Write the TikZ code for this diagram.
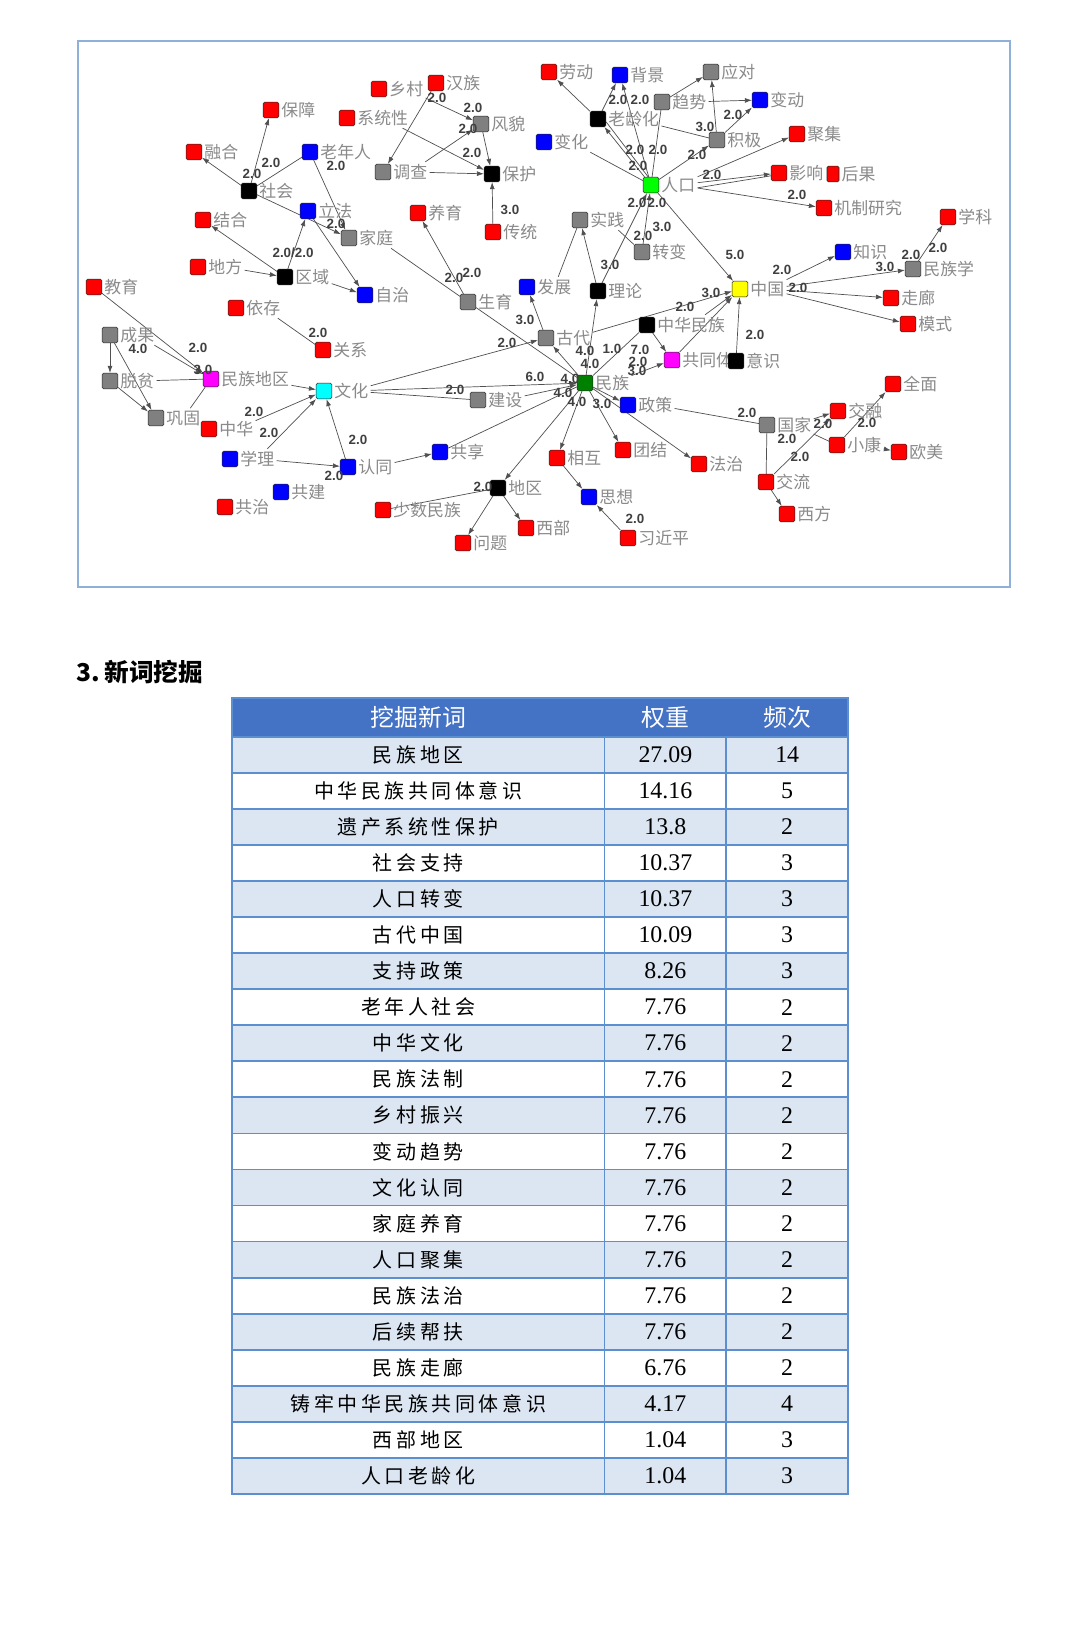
\documentclass[tikz,border=0pt]{standalone}
\usepackage{fontspec}
\setmainfont{Liberation Serif}
\setsansfont{Liberation Sans}
\newfontfamily\cjk{Noto Sans CJK SC}
\newfontfamily\cjkwide[LetterSpace=18]{Noto Sans CJK SC}
\usetikzlibrary{positioning}
\usetikzlibrary{shapes.geometric, arrows.meta, backgrounds}

\definecolor{nred}{HTML}{FF0000}
\definecolor{nblue}{HTML}{0000FF}
\definecolor{ngray}{HTML}{808080}
\definecolor{ngreen}{HTML}{00FF00}
\definecolor{ndkgreen}{HTML}{008000}
\definecolor{ncyan}{HTML}{00FFFF}
\definecolor{nmagenta}{HTML}{FF00FF}
\definecolor{nyellow}{HTML}{FFFF00}
\definecolor{lblgray}{HTML}{8A8A8A}
\definecolor{linegray}{HTML}{505050}
\definecolor{numgray}{HTML}{404040}
\definecolor{framec}{HTML}{8FB0D8}
\definecolor{headblue}{HTML}{4472C4}
\definecolor{rowblue}{HTML}{DCE6F2}
\definecolor{gridblue}{HTML}{5B8FD0}

\tikzset{
  wnode/.style={draw=black!85, rounded corners=1pt, minimum size=0.39cm, inner sep=0pt, line width=0.4pt},
  lbl/.style={text=lblgray, font=\cjk\fontsize{12}{12}\selectfont, inner sep=1.5pt},
  wline/.style={draw=linegray, line width=0.5pt, -{Latex[length=5pt,width=3.5pt]}},
  wplain/.style={draw=linegray, line width=0.5pt},
  wl/.style={text=numgray, font=\sffamily\bfseries\fontsize{9.5}{10}\selectfont, inner sep=0pt},
  thead/.style={text=white, font=\cjk\fontsize{17}{18}\selectfont},
  tcell/.style={font=\cjkwide\fontsize{14.2}{15}\selectfont},
  tnum/.style={font=\rmfamily\fontsize{17}{18}\selectfont},
}

\begin{document}
\begin{tikzpicture}[x=0.025cm, y=-0.025cm]
    \useasboundingbox (0,0) rectangle (1080,1632);

    % network frame
    \draw[framec, line width=1.5pt] (78,41) rectangle (1010,587);

    % word nodes
    \node[wnode, fill=nred, label={[lbl,name=baozhang-t]right:保障}] (baozhang) at (271,110) {};
    \node[wnode, fill=nred, label={[lbl,name=ronghe-t]right:融合}] (ronghe) at (194,152) {};
    \node[wnode, fill=nblue, label={[lbl,name=laonianren-t]right:老年人}] (laonianren) at (310,152) {};
    \node[wnode, fill=black, label={[lbl,name=shehui-t]right:社会}] (shehui) at (249,191) {};
    \node[wnode, fill=nblue, label={[lbl,name=lifa-t]right:立法}] (lifa) at (308,211) {};
    \node[wnode, fill=nred, label={[lbl,name=jiehe-t]right:结合}] (jiehe) at (203,220) {};
    \node[wnode, fill=nred, label={[lbl,name=xiangcun-t]right:乡村}] (xiangcun) at (379,89) {};
    \node[wnode, fill=nred, label={[lbl,name=xitong-t]right:系统性}] (xitong) at (347,118) {};
    \node[wnode, fill=ngray, label={[lbl,name=diaocha-t]right:调查}] (diaocha) at (383,172) {};
    \node[wnode, fill=ngray, label={[lbl,name=jiating-t]right:家庭}] (jiating) at (349,238) {};
    \node[wnode, fill=nred, label={[lbl,name=hanzu-t]right:汉族}] (hanzu) at (436,83) {};
    \node[wnode, fill=ngray, label={[lbl,name=fengmao-t]right:风貌}] (fengmao) at (481,124) {};
    \node[wnode, fill=black, label={[lbl,name=baohu-t]right:保护}] (baohu) at (492,174) {};
    \node[wnode, fill=nred, label={[lbl,name=yangyu-t]right:养育}] (yangyu) at (418,213) {};
    \node[wnode, fill=nred, label={[lbl,name=chuantong-t]right:传统}] (chuantong) at (493,232) {};
    \node[wnode, fill=nred, label={[lbl,name=laodong-t]right:劳动}] (laodong) at (549,72) {};
    \node[wnode, fill=nblue, label={[lbl,name=beijing-t]right:背景}] (beijing) at (620,75) {};
    \node[wnode, fill=ngray, label={[lbl,name=yingdui-t]right:应对}] (yingdui) at (711,72) {};
    \node[wnode, fill=ngray, label={[lbl,name=qushi-t]right:趋势}] (qushi) at (662,102) {};
    \node[wnode, fill=black, label={[lbl,name=laoling-t]right:老龄化}] (laoling) at (598,119) {};
    \node[wnode, fill=nblue, label={[lbl,name=bianhua-t]right:变化}] (bianhua) at (544,142) {};
    \node[wnode, fill=ngray, label={[lbl,name=jiji-t]right:积极}] (jiji) at (717,140) {};
    \node[wnode, fill=nblue, label={[lbl,name=biandong-t]right:变动}] (biandong) at (760,100) {};
    \node[wnode, fill=nred, label={[lbl,name=juji-t]right:聚集}] (juji) at (797,134) {};
    \node[wnode, fill=ngreen, label={[lbl,name=renkou-t]right:人口}] (renkou) at (651,185) {};
    \node[wnode, fill=nred, label={[lbl,name=yingxiang-t]right:影响}] (yingxiang) at (779,173) {};
    \node[wnode, fill=nred, minimum width=0.3cm, label={[lbl,name=houguo-t]right:后果}] (houguo) at (833,174) {};
    \node[wnode, fill=nred, label={[lbl,name=jizhi-t]right:机制研究}] (jizhi) at (824,208) {};
    \node[wnode, fill=nred, label={[lbl,name=xueke-t]right:学科}] (xueke) at (948,217) {};
    \node[wnode, fill=ngray, label={[lbl,name=shijian-t]right:实践}] (shijian) at (580,220) {};
    \node[wnode, fill=black, label={[lbl,name=quyu-t]right:区域}] (quyu) at (285,277) {};
    \node[wnode, fill=nred, label={[lbl,name=difang-t]right:地方}] (difang) at (198,267) {};
    \node[wnode, fill=nblue, label={[lbl,name=zizhi-t]right:自治}] (zizhi) at (365,295) {};
    \node[wnode, fill=nred, label={[lbl,name=jiaoyu-t]right:教育}] (jiaoyu) at (94,287) {};
    \node[wnode, fill=nred, label={[lbl,name=yicun-t]right:依存}] (yicun) at (236,308) {};
    \node[wnode, fill=nred, label={[lbl,name=guanxi-t]right:关系}] (guanxi) at (323,350) {};
    \node[wnode, fill=ngray, label={[lbl,name=chengguo-t]right:成果}] (chengguo) at (110,335) {};
    \node[wnode, fill=ngray, label={[lbl,name=tuopin-t]right:脱贫}] (tuopin) at (110,381) {};
    \node[wnode, fill=nmagenta, label={[lbl,name=mzdiqu-t]right:民族地区}] (mzdiqu) at (211,379) {};
    \node[wnode, fill=ncyan, label={[lbl,name=wenhua-t]right:文化}] (wenhua) at (324,391) {};
    \node[wnode, fill=ngray, label={[lbl,name=gonggu-t]right:巩固}] (gonggu) at (156,418) {};
    \node[wnode, fill=nblue, label={[lbl,name=fazhan-t]right:发展}] (fazhan) at (527,287) {};
    \node[wnode, fill=ngray, label={[lbl,name=shengyu-t]right:生育}] (shengyu) at (468,302) {};
    \node[wnode, fill=black, label={[lbl,name=lilun-t]right:理论}] (lilun) at (598,291) {};
    \node[wnode, fill=ngray, label={[lbl,name=zhuanbian-t]right:转变}] (zhuanbian) at (642,252) {};
    \node[wnode, fill=ngray, label={[lbl,name=gudai-t]right:古代}] (gudai) at (546,338) {};
    \node[wnode, fill=black, label={[lbl,name=zhmz-t]right:中华民族}] (zhmz) at (647,325) {};
    \node[wnode, fill=nmagenta, label={[lbl,name=gtt-t]right:共同体}] (gtt) at (672,360) {};
    \node[wnode, fill=black, label={[lbl,name=yishi-t]right:意识}] (yishi) at (736,361) {};
    \node[wnode, fill=ndkgreen, label={[lbl,name=minzu-t]right:民族}] (minzu) at (585,383) {};
    \node[wnode, fill=ngray, label={[lbl,name=jianshe-t]right:建设}] (jianshe) at (478,400) {};
    \node[wnode, fill=nblue, label={[lbl,name=zhengce-t]right:政策}] (zhengce) at (628,405) {};
    \node[wnode, fill=nyellow, label={[lbl,name=zhongguo-t]right:中国}] (zhongguo) at (740,289) {};
    \node[wnode, fill=nblue, label={[lbl,name=zhishi-t]right:知识}] (zhishi) at (843,252) {};
    \node[wnode, fill=ngray, label={[lbl,name=mzxue-t]right:民族学}] (mzxue) at (913,269) {};
    \node[wnode, fill=nred, label={[lbl,name=zoulang-t]right:走廊}] (zoulang) at (891,298) {};
    \node[wnode, fill=nred, label={[lbl,name=moshi-t]right:模式}] (moshi) at (908,324) {};
    \node[wnode, fill=nred, label={[lbl,name=quanmian-t]right:全面}] (quanmian) at (893,384) {};
    \node[wnode, fill=nred, label={[lbl,name=jiaorong-t]right:交融}] (jiaorong) at (838,411) {};
    \node[wnode, fill=nred, label={[lbl,name=zhonghua-t]right:中华}] (zhonghua) at (209,429) {};
    \node[wnode, fill=nblue, label={[lbl,name=xueli-t]right:学理}] (xueli) at (230,459) {};
    \node[wnode, fill=nblue, label={[lbl,name=rentong-t]right:认同}] (rentong) at (348,467) {};
    \node[wnode, fill=nblue, label={[lbl,name=gongjian-t]right:共建}] (gongjian) at (281,492) {};
    \node[wnode, fill=nred, label={[lbl,name=gongzhi-t]right:共治}] (gongzhi) at (225,507) {};
    \node[wnode, fill=nred, label={[lbl,name=shaoshu-t]right:少数民族}] (shaoshu) at (383,510) {};
    \node[wnode, fill=nblue, label={[lbl,name=gongxiang-t]right:共享}] (gongxiang) at (440,452) {};
    \node[wnode, fill=nred, label={[lbl,name=xianghu-t]right:相互}] (xianghu) at (557,458) {};
    \node[wnode, fill=nred, label={[lbl,name=tuanjie-t]right:团结}] (tuanjie) at (623,450) {};
    \node[wnode, fill=nred, label={[lbl,name=fazhi-t]right:法治}] (fazhi) at (699,464) {};
    \node[wnode, fill=black, label={[lbl,name=diqu-t]right:地区}] (diqu) at (498,488) {};
    \node[wnode, fill=nblue, label={[lbl,name=sixiang-t]right:思想}] (sixiang) at (589,497) {};
    \node[wnode, fill=nred, label={[lbl,name=xibu-t]right:西部}] (xibu) at (526,528) {};
    \node[wnode, fill=nred, label={[lbl,name=wenti-t]right:问题}] (wenti) at (463,543) {};
    \node[wnode, fill=nred, label={[lbl,name=xijinping-t]right:习近平}] (xijinping) at (628,538) {};
    \node[wnode, fill=ngray, label={[lbl,name=guojia-t]right:国家}] (guojia) at (767,425) {};
    \node[wnode, fill=nred, label={[lbl,name=xiaokang-t]right:小康}] (xiaokang) at (837,445) {};
    \node[wnode, fill=nred, label={[lbl,name=oumei-t]right:欧美}] (oumei) at (899,452) {};
    \node[wnode, fill=nred, label={[lbl,name=jiaoliu-t]right:交流}] (jiaoliu) at (766,482) {};
    \node[wnode, fill=nred, label={[lbl,name=xifang-t]right:西方}] (xifang) at (787,514) {};

    % links
    \begin{scope}[on background layer]
    \fill[white] (0,0) rectangle (1080,1632);
    \draw[wline] (shehui) -- (baozhang);
    \draw[wline] (shehui) -- (ronghe);
    \draw[wplain] (laonianren) -- (shehui);
    \draw[wline] (laonianren) -- (jiating);
    \draw[wline] (shehui) -- (jiating);
    \draw[wline] (quyu) -- (lifa);
    \draw[wline] (quyu) -- (jiehe);
    \draw[wline] (difang-t) -- (quyu);
    \draw[wline] (quyu-t) -- (zizhi);
    \draw[wline] (lifa) -- (zizhi);
    \draw[wline] (xiangcun-t) -- (fengmao);
    \draw[wline] (hanzu) -- (diaocha);
    \draw[wline] (xitong-t) -- (baohu);
    \draw[wline] (diaocha-t) -- (fengmao);
    \draw[wline] (diaocha-t) -- (baohu);
    \draw[wline] (fengmao) -- (baohu);
    \draw[wline] (chuantong) -- (baohu);
    \draw[wline] (shengyu) -- (yangyu);
    \draw[wplain] (jiating-t) -- (shengyu);
    \draw[wplain] (shengyu) -- (minzu);
    \draw[wline] (jiaoyu) -- (mzdiqu);
    \draw[wline] (chengguo-t) -- (mzdiqu);
    \draw[wline] (chengguo) -- (tuopin);
    \draw[wline] (chengguo) -- (gonggu);
    \draw[wline] (tuopin) -- (gonggu);
    \draw[wplain] (tuopin-t) -- (mzdiqu);
    \draw[wplain] (gonggu-t) -- (mzdiqu);
    \draw[wline] (mzdiqu-t) -- (wenhua);
    \draw[wplain] (yicun-t) -- (guanxi);
    \draw[wline] (zhonghua-t) -- (wenhua);
    \draw[wline] (xueli-t) -- (wenhua);
    \draw[wline] (xueli-t) -- (rentong);
    \draw[wline] (rentong) -- (wenhua);
    \draw[wline] (rentong-t) -- (gongxiang);
    \draw[wplain] (wenhua-t) -- (jianshe);
    \draw[wline] (wenhua-t) -- (minzu);
    \draw[wline] (wenhua-t) -- (gudai);
    \draw[wline] (jianshe-t) -- (minzu);
    \draw[wline] (gudai) -- (fazhan);
    \draw[wline] (minzu) -- (gudai);
    \draw[wline] (gudai-t) -- (zhongguo);
    \draw[wline] (minzu) -- (lilun);
    \draw[wline] (lilun) -- (shijian);
    \draw[wplain] (fazhan-t) -- (shijian);
    \draw[wplain] (shijian-t) -- (zhuanbian);
    \draw[wline] (lilun) -- (renkou);
    \draw[wline] (zhuanbian) -- (renkou);
    \draw[wline] (renkou) -- (zhongguo);
    \draw[wline] (zhmz-t) -- (zhongguo);
    \draw[wline] (gtt) -- (zhongguo);
    \draw[wline] (yishi) -- (zhongguo);
    \draw[wline] (zhmz) -- (gtt);
    \draw[wplain] (minzu) -- (zhmz);
    \draw[wline] (minzu-t) -- (gtt);
    \draw[wline] (minzu) -- (zhengce);
    \draw[wplain] (zhengce-t) -- (guojia);
    \draw[wline] (minzu) -- (fazhi);
    \draw[wline] (minzu) -- (tuanjie);
    \draw[wline] (minzu) -- (xianghu);
    \draw[wline] (xianghu) -- (sixiang);
    \draw[wline] (xijinping) -- (sixiang);
    \draw[wline] (minzu) -- (diqu);
    \draw[wplain] (minzu) -- (gongxiang);
    \draw[wplain] (shaoshu) -- (diqu);
    \draw[wline] (diqu) -- (xibu);
    \draw[wline] (diqu) -- (wenti);
    \draw[wplain] (guojia) -- (jiaoliu);
    \draw[wline] (guojia-t) -- (jiaorong);
    \draw[wplain] (guojia-t) -- (xiaokang);
    \draw[wline] (jiaoliu) -- (jiaorong);
    \draw[wline] (xiaokang) -- (quanmian);
    \draw[wline] (xiaokang-t) -- (oumei);
    \draw[wline] (jiaoliu) -- (xifang);
    \draw[wline] (renkou) -- (laoling);
    \draw[wplain] ([xshift=-2pt]renkou.north) -- ([yshift=-2pt]laoling.east);
    \draw[wline] (laoling) -- (laodong);
    \draw[wline] (laoling) -- (beijing);
    \draw[wline] (renkou) -- (beijing);
    \draw[wline] (qushi) -- (yingdui);
    \draw[wline] (qushi-t) -- (biandong);
    \draw[wline] (jiji) -- (yingdui);
    \draw[wline] (jiji) -- (biandong);
    \draw[wline] (renkou) -- (jiji);
    \draw[wplain] (renkou) -- (qushi);
    \draw[wline] (renkou-t) -- (juji);
    \draw[wline] (renkou-t) -- (yingxiang);
    \draw[wplain] ([yshift=-2pt]renkou-t.east) -- ([yshift=-2pt]yingxiang.west);
    \draw[wline] (renkou-t) -- (jizhi);
    \draw[wplain] (bianhua-t) -- (renkou);
    \draw[wplain] (laoling-t) -- (jiji);
    \draw[wline] (zhongguo-t) -- (zhishi);
    \draw[wline] (zhongguo-t) -- (mzxue);
    \draw[wline] (zhongguo-t) -- (zoulang);
    \draw[wline] (zhongguo-t) -- (moshi);
    \draw[wline] (mzxue) -- (xueke);
    \end{scope}

    % link weights
    \node[wl] (w1) at (271,163) {2.0};
    \node[wl] (w2) at (252,174) {2.0};
    \node[wl] (w3) at (336,166) {2.0};
    \node[wl] (w4) at (336,224) {2.0};
    \node[wl] (w5) at (293,253) {2.0/2.0};
    \node[wl] (w6) at (437,98) {2.0};
    \node[wl] (w7) at (473,108) {2.0};
    \node[wl] (w8) at (468,129) {2.0};
    \node[wl] (w9) at (472,153) {2.0};
    \node[wl] (w10) at (510,210) {3.0};
    \node[wl] (w11) at (454,278) {2.0};
    \node[wl] (w12) at (472,273) {2.0};
    \node[wl] (w13) at (138,349) {4.0};
    \node[wl] (w14) at (198,348) {2.0};
    \node[wl] (w15) at (203,370) {3.0};
    \node[wl] (w16) at (318,333) {2.0};
    \node[wl] (w17) at (254,412) {2.0};
    \node[wl] (w18) at (269,433) {2.0};
    \node[wl] (w19) at (358,440) {2.0};
    \node[wl] (w20) at (334,476) {2.0};
    \node[wl] (w21) at (455,390) {2.0};
    \node[wl] (w22) at (535,377) {6.0};
    \node[wl] (w23) at (507,343) {2.0};
    \node[wl] (w24) at (525,320) {3.0};
    \node[wl] (w25) at (585,351) {4.0};
    \node[wl] (w26) at (612,349) {1.0};
    \node[wl] (w27) at (590,364) {4.0};
    \node[wl] (w28) at (570,379) {4.0};
    \node[wl] (w29) at (563,393) {4.0};
    \node[wl] (w30) at (577,402) {4.0};
    \node[wl] (w31) at (602,404) {3.0};
    \node[wl] (w32) at (640,350) {7.0};
    \node[wl] (w33) at (638,362) {2.0};
    \node[wl] (w34) at (637,371) {3.0};
    \node[wl] (w35) at (685,307) {2.0};
    \node[wl] (w36) at (711,293) {3.0};
    \node[wl] (w37) at (755,335) {2.0};
    \node[wl] (w38) at (735,255) {5.0};
    \node[wl] (w39) at (782,270) {2.0};
    \node[wl] (w40) at (798,288) {2.0};
    \node[wl] (w41) at (885,267) {3.0};
    \node[wl] (w42) at (911,255) {2.0};
    \node[wl] (w43) at (938,248) {2.0};
    \node[wl] (w44) at (747,413) {2.0};
    \node[wl] (w45) at (787,439) {2.0};
    \node[wl] (w46) at (823,424) {2.0};
    \node[wl] (w47) at (867,423) {2.0};
    \node[wl] (w48) at (800,457) {2.0};
    \node[wl] (w49) at (483,487) {2.0};
    \node[wl] (w50) at (635,519) {2.0};
    \node[wl] (w51) at (618,100) {2.0};
    \node[wl] (w52) at (640,100) {2.0};
    \node[wl] (w53) at (733,115) {2.0};
    \node[wl] (w54) at (705,127) {3.0};
    \node[wl] (w55) at (635,150) {2.0};
    \node[wl] (w56) at (658,150) {2.0};
    \node[wl] (w57) at (697,155) {2.0};
    \node[wl] (w58) at (638,166) {2.0};
    \node[wl] (w59) at (712,175) {2.0};
    \node[wl] (w60) at (797,195) {2.0};
    \node[wl] (w61) at (637,203) {2.0};
    \node[wl] (w62) at (657,203) {2.0};
    \node[wl] (w63) at (643,236) {2.0};
    \node[wl] (w64) at (662,227) {3.0};
    \node[wl] (w65) at (610,265) {3.0};

    % section title
    \node[anchor=west, font=\cjk\bfseries\fontsize{17.5}{18}\selectfont] (title) at (72,672) {3.\,新词挖掘};

    % table
    \fill[headblue] (232,698) rectangle (848,736.7);
    \fill[rowblue] (232,736.7) rectangle (848,772.8);
    \fill[rowblue] (232,808.8) rectangle (848,844.9);
    \fill[rowblue] (232,880.9) rectangle (848,917.0);
    \fill[rowblue] (232,953.1) rectangle (848,989.1);
    \fill[rowblue] (232,1025.2) rectangle (848,1061.3);
    \fill[rowblue] (232,1097.3) rectangle (848,1133.4);
    \fill[rowblue] (232,1169.5) rectangle (848,1205.5);
    \fill[rowblue] (232,1241.6) rectangle (848,1277.7);
    \fill[rowblue] (232,1313.7) rectangle (848,1349.8);
    \fill[rowblue] (232,1385.9) rectangle (848,1421.9);
    \fill[rowblue] (232,1458.0) rectangle (848,1494.1);
    \draw[gridblue, line width=1.2pt] (232,698) rectangle (848,1494.1);
    \draw[gridblue, line width=1.2pt]
      (232,736.7) -- (848,736.7) (232,772.8) -- (848,772.8) (232,808.8) -- (848,808.8)
      (232,844.9) -- (848,844.9) (232,880.9) -- (848,880.9) (232,917.0) -- (848,917.0)
      (232,953.1) -- (848,953.1) (232,989.1) -- (848,989.1) (232,1025.2) -- (848,1025.2)
      (232,1061.3) -- (848,1061.3) (232,1097.3) -- (848,1097.3) (232,1133.4) -- (848,1133.4)
      (232,1169.5) -- (848,1169.5) (232,1205.5) -- (848,1205.5) (232,1241.6) -- (848,1241.6)
      (232,1277.7) -- (848,1277.7) (232,1313.7) -- (848,1313.7) (232,1349.8) -- (848,1349.8)
      (232,1385.9) -- (848,1385.9) (232,1421.9) -- (848,1421.9) (232,1458.0) -- (848,1458.0)
      (604.5,736.7) -- (604.5,1494.1) (726.3,736.7) -- (726.3,1494.1);

    \node[thead] (h1) at (418.3,717.4) {挖掘新词};
    \node[thead] (h2) at (665.4,717.4) {权重};
    \node[thead] (h3) at (787.2,717.4) {频次};

    \node[tcell] (r1a) at (418.3,754.7) {民族地区}; \node[tnum] (r1b) at (665.4,754.7) {27.09}; \node[tnum] (r1c) at (787.2,754.7) {14};
    \node[tcell] (r2a) at (418.3,790.8) {中华民族共同体意识}; \node[tnum] (r2b) at (665.4,790.8) {14.16}; \node[tnum] (r2c) at (787.2,790.8) {5};
    \node[tcell] (r3a) at (418.3,826.9) {遗产系统性保护}; \node[tnum] (r3b) at (665.4,826.9) {13.8}; \node[tnum] (r3c) at (787.2,826.9) {2};
    \node[tcell] (r4a) at (418.3,862.9) {社会支持}; \node[tnum] (r4b) at (665.4,862.9) {10.37}; \node[tnum] (r4c) at (787.2,862.9) {3};
    \node[tcell] (r5a) at (418.3,899.0) {人口转变}; \node[tnum] (r5b) at (665.4,899.0) {10.37}; \node[tnum] (r5c) at (787.2,899.0) {3};
    \node[tcell] (r6a) at (418.3,935.0) {古代中国}; \node[tnum] (r6b) at (665.4,935.0) {10.09}; \node[tnum] (r6c) at (787.2,935.0) {3};
    \node[tcell] (r7a) at (418.3,971.1) {支持政策}; \node[tnum] (r7b) at (665.4,971.1) {8.26}; \node[tnum] (r7c) at (787.2,971.1) {3};
    \node[tcell] (r8a) at (418.3,1007.2) {老年人社会}; \node[tnum] (r8b) at (665.4,1007.2) {7.76}; \node[tnum] (r8c) at (787.2,1007.2) {2};
    \node[tcell] (r9a) at (418.3,1043.2) {中华文化}; \node[tnum] (r9b) at (665.4,1043.2) {7.76}; \node[tnum] (r9c) at (787.2,1043.2) {2};
    \node[tcell] (r10a) at (418.3,1079.3) {民族法制}; \node[tnum] (r10b) at (665.4,1079.3) {7.76}; \node[tnum] (r10c) at (787.2,1079.3) {2};
    \node[tcell] (r11a) at (418.3,1115.3) {乡村振兴}; \node[tnum] (r11b) at (665.4,1115.3) {7.76}; \node[tnum] (r11c) at (787.2,1115.3) {2};
    \node[tcell] (r12a) at (418.3,1151.4) {变动趋势}; \node[tnum] (r12b) at (665.4,1151.4) {7.76}; \node[tnum] (r12c) at (787.2,1151.4) {2};
    \node[tcell] (r13a) at (418.3,1187.5) {文化认同}; \node[tnum] (r13b) at (665.4,1187.5) {7.76}; \node[tnum] (r13c) at (787.2,1187.5) {2};
    \node[tcell] (r14a) at (418.3,1223.6) {家庭养育}; \node[tnum] (r14b) at (665.4,1223.6) {7.76}; \node[tnum] (r14c) at (787.2,1223.6) {2};
    \node[tcell] (r15a) at (418.3,1259.6) {人口聚集}; \node[tnum] (r15b) at (665.4,1259.6) {7.76}; \node[tnum] (r15c) at (787.2,1259.6) {2};
    \node[tcell] (r16a) at (418.3,1295.7) {民族法治}; \node[tnum] (r16b) at (665.4,1295.7) {7.76}; \node[tnum] (r16c) at (787.2,1295.7) {2};
    \node[tcell] (r17a) at (418.3,1331.8) {后续帮扶}; \node[tnum] (r17b) at (665.4,1331.8) {7.76}; \node[tnum] (r17c) at (787.2,1331.8) {2};
    \node[tcell] (r18a) at (418.3,1367.8) {民族走廊}; \node[tnum] (r18b) at (665.4,1367.8) {6.76}; \node[tnum] (r18c) at (787.2,1367.8) {2};
    \node[tcell] (r19a) at (418.3,1403.9) {铸牢中华民族共同体意识}; \node[tnum] (r19b) at (665.4,1403.9) {4.17}; \node[tnum] (r19c) at (787.2,1403.9) {4};
    \node[tcell] (r20a) at (418.3,1440.0) {西部地区}; \node[tnum] (r20b) at (665.4,1440.0) {1.04}; \node[tnum] (r20c) at (787.2,1440.0) {3};
    \node[tcell] (r21a) at (418.3,1476.0) {人口老龄化}; \node[tnum] (r21b) at (665.4,1476.0) {1.04}; \node[tnum] (r21c) at (787.2,1476.0) {3};
\end{tikzpicture}
\end{document}
